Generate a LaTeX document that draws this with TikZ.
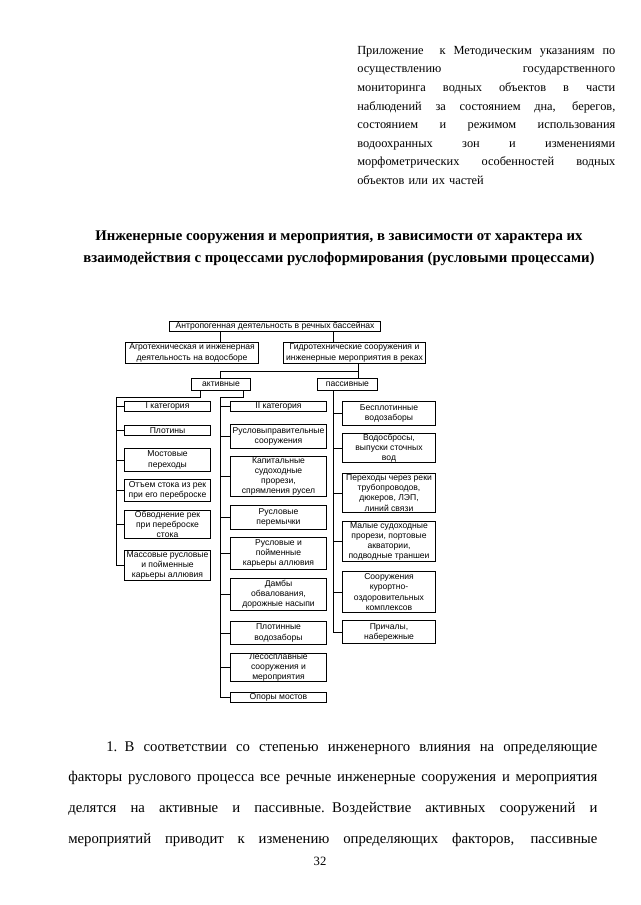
\documentclass[tikz,border=0pt]{standalone}
\usepackage{fontspec}
\setmainfont{Liberation Serif}
\newfontfamily\chartfont{Liberation Sans}
\newcommand\jline[2]{\leavevmode\hbox to #1{\spaceskip=0.25em plus 1fil\relax #2}}
\tikzset{
  chart_node/.style = {draw=black, rectangle, align=center, inner sep=0pt,
    line width=0.7pt, font={\chartfont\fontsize{6.1}{7.2}\selectfont}},% блок схемы
  top_node/.style = {chart_node, anchor=north west},% верхние уровни
  left_node/.style = {chart_node, anchor=north west, minimum width=2.15cm},% I категория
  mid_node/.style = {chart_node, anchor=north west, minimum width=2.4cm},% II категория
  right_node/.style = {chart_node, anchor=north west, minimum width=2.325cm},% пассивные
  link/.style = {draw=black, line width=0.7pt},% линии связи
  page_text/.style = {inner sep=0pt, anchor=north west}% текст страницы
}
\begin{document}
\begin{tikzpicture}[x=0.025cm, y=-0.025cm]
  \path[fill=white] (0,0) rectangle (640,905);
  % текст страницы
  \node[page_text, text width=6.45cm, font=\fontsize{8.8}{13.2}\selectfont] (prilozh) at (357,46) {%
    \jline{6.45cm}{Приложение \ к Методическим указаниям по}\\
    \jline{6.45cm}{осуществлению государственного}\\
    \jline{6.45cm}{мониторинга водных объектов в части}\\
    \jline{6.45cm}{наблюдений за состоянием дна, берегов,}\\
    \jline{6.45cm}{состоянием и режимом использования}\\
    \jline{6.45cm}{водоохранных зон и изменениями}\\
    \jline{6.45cm}{морфометрических особенностей водных}\\
    объектов или их частей};
  \node[inner sep=0pt, anchor=north, align=center,
    font=\bfseries\fontsize{10.5}{15.6}\selectfont] (title) at (339,231)
    {Инженерные сооружения и мероприятия, в зависимости от характера их\\
     взаимодействия с процессами руслоформирования (русловыми процессами)};
  \node[page_text, text width=13.225cm, font=\fontsize{10.5}{22}\selectfont] (body) at (68,741) {%
    \hspace*{0.95cm}\jline{12.275cm}{1. В соответствии со степенью инженерного влияния на определяющие}\\
    \jline{13.225cm}{факторы руслового процесса все речные инженерные сооружения и мероприятия}\\
    \jline{13.225cm}{делятся на активные и пассивные. Воздействие активных сооружений и}\\
    \jline{13.225cm}{мероприятий приводит к изменению определяющих факторов, пассивные}};
  \node[inner sep=0pt, font=\fontsize{9}{11}\selectfont] (pagenum) at (320,861) {32};

  % схема
  \node[top_node, minimum width=5.275cm, minimum height=0.25cm] (anthro) at (169,321)
    {Антропогенная деятельность в речных бассейнах};
  \node[top_node, minimum width=3.325cm, minimum height=0.525cm] (agro) at (125,342)
    {Агротехническая и инженерная\\деятельность на водосборе};
  \node[top_node, minimum width=3.55cm, minimum height=0.525cm] (gidro) at (283,342)
    {Гидротехнические сооружения и\\инженерные мероприятия в реках};
  \node[top_node, minimum width=1.475cm, minimum height=0.3cm] (akt) at (191,378) {активные};
  \node[top_node, minimum width=1.5cm, minimum height=0.3cm] (pass) at (317,378) {пассивные};

  \node[left_node, minimum height=0.25cm] (l1) at (124,401) {I категория};
  \node[left_node, minimum height=0.25cm] (l2) at (124,425) {Плотины};
  \node[left_node, minimum height=0.575cm] (l3) at (124,448) {Мостовые\\переходы};
  \node[left_node, minimum height=0.55cm] (l4) at (124,479) {Отъем стока из рек\\при его переброске};
  \node[left_node, minimum height=0.7cm] (l5) at (124,510) {Обводнение рек\\при переброске\\стока};
  \node[left_node, minimum height=0.75cm] (l6) at (124,550) {Массовые русловые\\и пойменные\\карьеры аллювия};

  \node[mid_node, minimum height=0.25cm] (m1) at (230,401) {II категория};
  \node[mid_node, minimum height=0.6cm] (m2) at (230,424) {Русловыправительные\\сооружения};
  \node[mid_node, minimum height=1.0cm] (m3) at (230,456) {Капитальные\\судоходные\\прорези,\\спрямления русел};
  \node[mid_node, minimum height=0.6cm] (m4) at (230,505) {Русловые\\перемычки};
  \node[mid_node, minimum height=0.8cm] (m5) at (230,537) {Русловые и\\пойменные\\карьеры аллювия};
  \node[mid_node, minimum height=0.8cm] (m6) at (230,578) {Дамбы\\обвалования,\\дорожные насыпи};
  \node[mid_node, minimum height=0.575cm] (m7) at (230,621) {Плотинные\\водозаборы};
  \node[mid_node, minimum height=0.7cm] (m8) at (230,653) {Лесосплавные\\сооружения и\\мероприятия};
  \node[mid_node, minimum height=0.25cm] (m9) at (230,692) {Опоры мостов};

  \node[right_node, minimum height=0.6cm] (r1) at (342,401) {Бесплотинные\\водозаборы};
  \node[right_node, minimum height=0.725cm] (r2) at (342,433) {Водосбросы,\\выпуски сточных\\вод};
  \node[right_node, minimum height=0.975cm] (r3) at (342,473) {Переходы через реки\\трубопроводов,\\дюкеров, ЛЭП,\\линий связи};
  \node[right_node, minimum height=1.0cm] (r4) at (342,521) {Малые судоходные\\прорези, портовые\\акватории,\\подводные траншеи};
  \node[right_node, minimum height=1.025cm] (r5) at (342,571) {Сооружения\\курортно-\\оздоровительных\\комплексов};
  \node[right_node, minimum height=0.575cm] (r6) at (342,620) {Причалы,\\набережные};

  % линии
  \coordinate (xa) at (220,0);
  \coordinate (xb) at (333,0);
  \coordinate (xc) at (358,0);
  \coordinate (xd) at (200,0);
  \coordinate (xe) at (243,0);
  \coordinate (lx) at (116,397);
  \coordinate (mx) at (220,397);
  \draw[link] (anthro.south -| xa) -- (agro.north -| xa);
  \draw[link] (anthro.south -| xb) -- (gidro.north -| xb);
  \draw[link] (gidro.south -| xc) -- (pass.north -| xc);
  \draw[link] (gidro.south -| xc) -- ++(0,8) -| (akt.north -| xa);
  \draw[link] (akt.south -| xd) |- (lx) -- (lx |- l6.west);
  \draw[link] (akt.south -| xe) |- (mx) -- (mx |- m9.west);
  \draw[link] (pass.south -| xb) -- (xb |- r6.west);
  \draw[link] (lx |- l1.west) -- (l1.west) (lx |- l2.west) -- (l2.west)
    (lx |- l3.west) -- (l3.west) (lx |- l4.west) -- (l4.west)
    (lx |- l5.west) -- (l5.west) (lx |- l6.west) -- (l6.west);
  \draw[link] (mx |- m1.west) -- (m1.west) (mx |- m2.west) -- (m2.west)
    (mx |- m3.west) -- (m3.west) (mx |- m4.west) -- (m4.west)
    (mx |- m5.west) -- (m5.west) (mx |- m6.west) -- (m6.west)
    (mx |- m7.west) -- (m7.west) (mx |- m8.west) -- (m8.west)
    (mx |- m9.west) -- (m9.west);
  \draw[link] (xb |- r1.west) -- (r1.west) (xb |- r2.west) -- (r2.west)
    (xb |- r3.west) -- (r3.west) (xb |- r4.west) -- (r4.west)
    (xb |- r5.west) -- (r5.west) (xb |- r6.west) -- (r6.west);
\end{tikzpicture}
\end{document}
